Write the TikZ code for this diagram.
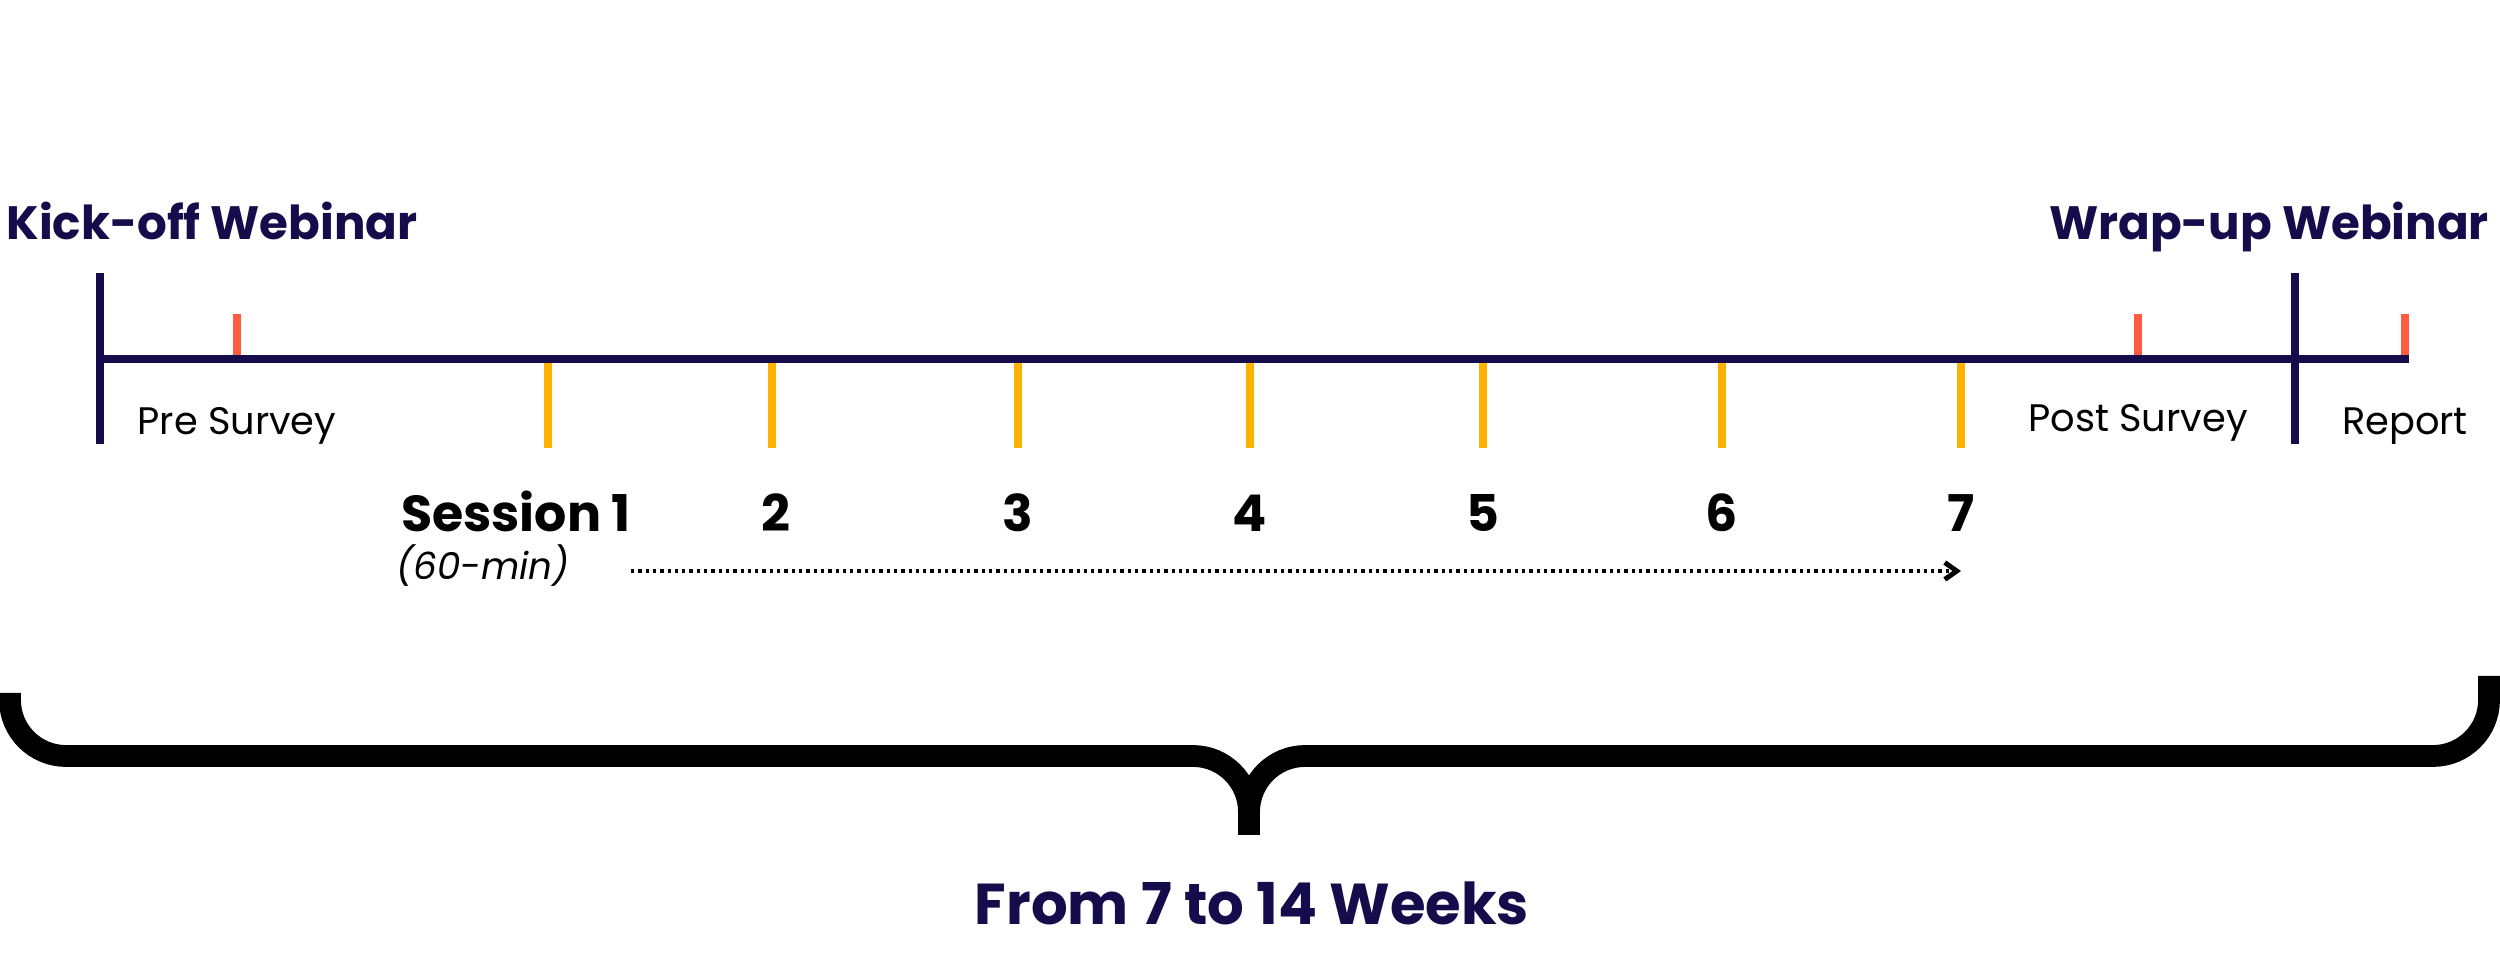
\documentclass[tikz,border=0pt]{standalone}
\usepackage{fontspec}
\setmainfont{Poppins}
\usepackage{tikz}
\usetikzlibrary{arrows.meta,positioning}
\definecolor{navy}{HTML}{140C4B}
\definecolor{coral}{HTML}{FF5B3F}
\definecolor{amber}{HTML}{FFB100}
\tikzstyle{axis}   =[navy, line width=2.3pt]
\tikzstyle{survey} =[coral, line width=2.3pt]
\tikzstyle{session}=[amber, line width=2.3pt]
\tikzstyle{brace}  =[black, line width=6.2pt, rounded corners=0.56cm]
\tikzstyle{dotarrow}=[line width=0.95pt, dash pattern=on 0.033cm off 0.04cm,
                    -{Straight Barb[length=3.4pt, width=4.8pt, line width=1.4pt]}]
\tikzstyle{title}  =[font=\bfseries\fontsize{13.3}{15}\selectfont, text=navy,
                    inner sep=0pt, anchor=base]
\tikzstyle{note}   =[font=\fontsize{10.9}{12}\selectfont, inner sep=0pt,
                    anchor=base]
\tikzstyle{num}    =[font=\bfseries\fontsize{14.4}{16}\selectfont, inner sep=0pt,
                    anchor=base]

\begin{document}
\begin{tikzpicture}[x=0.01cm, y=-0.01cm]
    \useasboundingbox (0,0) rectangle (2500,977);
    % titles
    \node[title] (kickoff) at (212,240) {Kick-off Webinar};
    \node[title] (wrapup)  at (2269,240) {Wrap-up Webinar};

    % milestones and surveys
    \coordinate (start) at (100,359);
    \coordinate (stop)  at (2409,359);
    \draw[axis] (100,273) -- (100,444);
    \draw[axis] (2295,273) -- (2295,444);
    \foreach \x [count=\i] in {237,2138,2405}
        \draw[survey] (\x,314) coordinate (r\i) -- (\x,359);
    \foreach \x [count=\i] in {548,772,1018,1250,1483,1722,1961}
        \draw[session] (\x,359) coordinate (s\i) -- ++(0,89);
    \draw[axis] (start) -- (stop);

    \node[note] (pre)    at (237,435)  {Pre Survey};
    \node[note] (post)   at (2138,432) {Post Survey};
    \node[note] (report) at (2405,435) {Report};

    % sessions
    \node[num] (n1) at (516,532) {Session 1};
    \foreach \x [count=\i from 2] in {776,1018,1250,1483,1722,1961}
        \node[num] (n\i) at (\x,532) {\i};
    \node[note, font=\itshape\fontsize{10.6}{12}\selectfont] (len) at (483,580) {(60-min)};
    \coordinate (a0) at (631,571);
    \coordinate (a1) at (1961,571);
    \draw[dotarrow] (a0) -- (a1);

    % brace
    \coordinate (tip) at (1249,835);
    \draw[brace] (10,693) -- (10,756) -- (1249,756) -- (tip);
    \draw[brace] (2489,676) -- (2489,756) -- (1249,756) -- (tip);
    \node[title, font=\bfseries\fontsize{16.4}{18}\selectfont] (weeks) at (1252,925) {From 7 to 14 Weeks};
\end{tikzpicture}
\end{document}
